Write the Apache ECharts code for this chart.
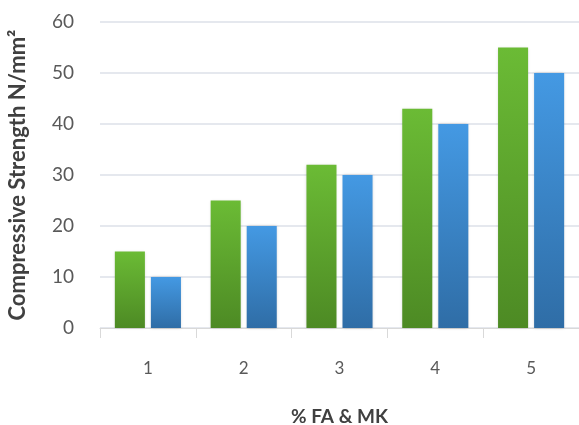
<!DOCTYPE html>
<html><head><meta charset="utf-8">
<script src="https://cdn.jsdelivr.net/npm/echarts@6/dist/echarts.min.js"></script>
<style>html,body{margin:0;padding:0;background:#fff}#c{width:579px;height:425px}</style>
</head><body><div id="c"></div>
<script>
const categories = ['1', '2', '3', '4', '5'];
const seriesA = [15, 25, 32, 43, 55];
const seriesB = [10, 20, 30, 40, 50];
const yTicks = [0, 10, 20, 30, 40, 50, 60];

const chart = echarts.init(document.getElementById('c'), null, {renderer: 'canvas'});
const grad = (t, b) => new echarts.graphic.LinearGradient(0, 0, 0, 1, [{offset: 0, color: t}, {offset: 1, color: b}]);
chart.setOption({
  animation: false,
  grid: {left: 100, right: 0, top: 22, bottom: 97, containLabel: false, outerBoundsMode: 'none'},
  xAxis: {
    type: 'category', data: categories,
    name: '% FA & MK', nameLocation: 'middle', nameGap: 79,
    nameTextStyle: {fontFamily: 'Lato', fontWeight: 'bold', fontSize: 19, color: '#404040'},
    axisLine: {lineStyle: {color: '#d9d9d9', width: 1}},
    axisTick: {show: true, length: 10, lineStyle: {color: '#d9d9d9'}},
    axisLabel: {fontFamily: 'Lato', fontSize: 17, color: '#595959', margin: 32}
  },
  yAxis: {
    type: 'value', min: yTicks[0], max: yTicks[yTicks.length - 1], interval: 10,
    name: 'Compressive Strength N/mm²', nameLocation: 'middle', nameGap: 71,
    nameTextStyle: {fontFamily: 'Lato', fontWeight: 'bold', fontSize: 22, color: '#404040'},
    axisLine: {show: false}, axisTick: {show: false},
    axisLabel: {fontFamily: 'Lato', fontSize: 19, color: '#595959', margin: 26},
    splitLine: {lineStyle: {color: '#dde1e8', width: 1.5}}
  },
  series: [
    {type: 'bar', data: seriesA, barGap: '20%', barCategoryGap: '31%',
     itemStyle: {color: grad('#6bbb35', '#4d8a24'), shadowColor: 'rgba(0,0,0,0.18)', shadowBlur: 3}},
    {type: 'bar', data: seriesB,
     itemStyle: {color: grad('#4499e3', '#2f6da6'), shadowColor: 'rgba(0,0,0,0.18)', shadowBlur: 3}}
  ]
});
</script></body></html>
